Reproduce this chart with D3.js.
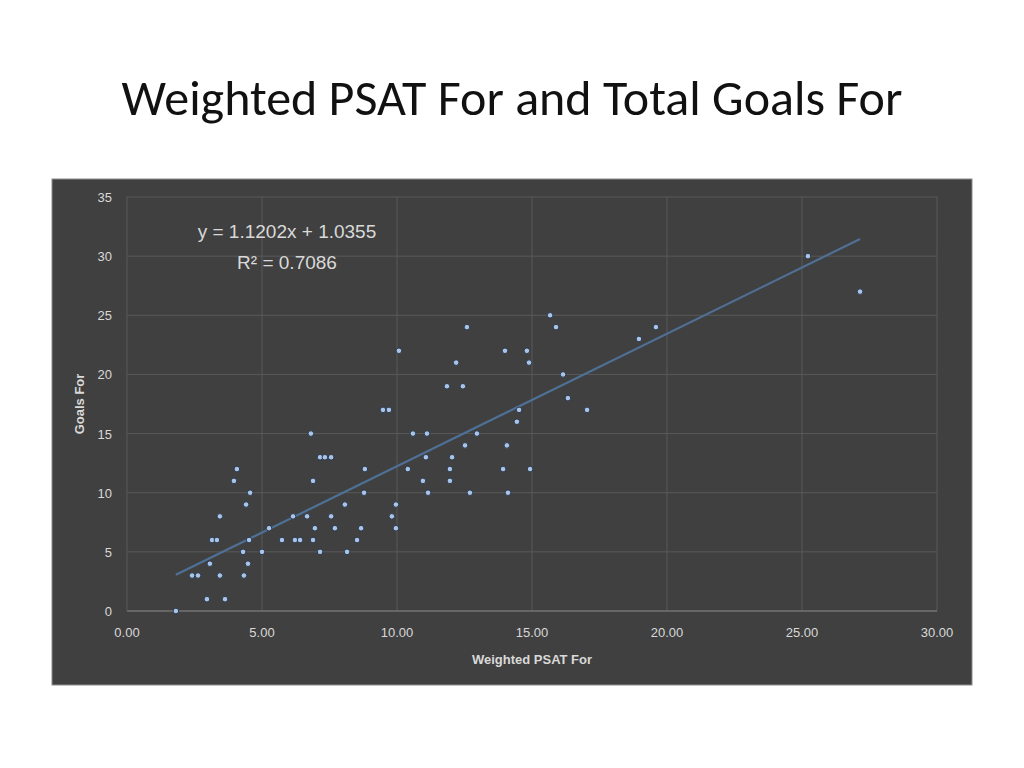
<!DOCTYPE html>
<html><head><meta charset="utf-8">
<script src="https://d3js.org/d3.v7.min.js"></script>
<style>body{margin:0;background:#fff;}</style></head>
<body><svg id="c" width="1024" height="768"></svg>
<script>
const xVals=[1.81,2.41,2.63,2.96,3.07,3.15,3.33,3.44,3.44,3.63,3.96,4.07,4.30,4.33,4.41,4.48,4.52,4.56,5.0,5.26,5.74,6.15,6.22,6.41,6.67,6.81,6.89,6.89,6.96,7.15,7.15,7.33,7.56,7.56,7.70,8.07,8.15,8.52,8.67,8.78,8.81,9.48,9.70,9.81,9.96,9.96,10.07,10.4,10.59,10.96,11.07,11.11,11.15,11.85,11.96,11.96,12.04,12.19,12.44,12.52,12.59,12.70,12.96,13.93,14.0,14.07,14.11,14.44,14.52,14.81,14.89,14.93,15.67,15.89,16.15,16.33,17.04,18.96,19.59,25.22,27.15];
const yVals=[0,3,3,1,4,6,6,8,3,1,11,12,5,3,9,4,6,10,5,7,6,8,6,6,8,15,11,6,7,5,13,13,13,8,7,9,5,6,7,10,12,17,17,8,9,7,22,12,15,11,13,15,10,19,11,12,13,21,19,14,24,10,15,12,22,14,10,16,17,22,21,12,25,24,20,18,17,23,24,30,27];
const xTicks=[0,5,10,15,20,25,30];
const yTicks=[0,5,10,15,20,25,30,35];
const slope=1.1202, intercept=1.0355;
const svg=d3.select("#c");
svg.append("text").attr("x",512).attr("y",115).attr("text-anchor","middle")
 .attr("font-family","Carlito, Calibri, 'Liberation Sans', sans-serif").attr("font-size",50).attr("fill","#111")
 .text("Weighted PSAT For and Total Goals For");
svg.append("rect").attr("x",52).attr("y",179).attr("width",920).attr("height",506).attr("fill","#404040").attr("stroke","#8c8c8c");
const x=d3.scaleLinear().domain([0,30]).range([127,937]);
const y=d3.scaleLinear().domain([0,35]).range([611,197]);
const g=svg.append("g").attr("font-family","'Liberation Sans',Arial,sans-serif");
g.selectAll(".gx").data(xTicks.slice(1)).join("line").attr("x1",d=>x(d)).attr("x2",d=>x(d)).attr("y1",y(35)).attr("y2",y(0)).attr("stroke","#595959");
g.selectAll(".gy").data(yTicks).join("line").attr("x1",x(0)).attr("x2",x(30)).attr("y1",d=>y(d)).attr("y2",d=>y(d)).attr("stroke",d=>d===0?"#8c8c8c":"#595959");
g.append("line").attr("x1",x(0)).attr("x2",x(0)).attr("y1",y(35)).attr("y2",y(0)).attr("stroke","#595959");
g.selectAll(".tx").data(xTicks).join("text").attr("x",d=>x(d)).attr("y",637).attr("text-anchor","middle").attr("fill","#d9d9d9").attr("font-size",13).text(d=>d3.format(".2f")(d));
g.selectAll(".ty").data(yTicks).join("text").attr("x",112).attr("y",d=>y(d)+5).attr("text-anchor","end").attr("fill","#d9d9d9").attr("font-size",13).text(d=>d);
g.append("text").attr("x",532).attr("y",664).attr("text-anchor","middle").attr("fill","#d9d9d9").attr("font-size",13).attr("font-weight","bold").text("Weighted PSAT For");
g.append("text").attr("transform","translate(84,404) rotate(-90)").attr("text-anchor","middle").attr("fill","#d9d9d9").attr("font-size",13).attr("font-weight","bold").text("Goals For");
const xmin=d3.min(xVals), xmax=d3.max(xVals);
g.append("line").attr("x1",x(xmin)).attr("y1",y(slope*xmin+intercept)).attr("x2",x(xmax)).attr("y2",y(slope*xmax+intercept)).attr("stroke","#4f7096").attr("stroke-width",2.2);
g.selectAll(".pt").data(xVals.map((v,i)=>[v,yVals[i]])).join("circle").attr("cx",d=>x(d[0])).attr("cy",d=>y(d[1])).attr("r",2.8).attr("fill","#a9c4ea").attr("stroke","#2d3a4a").attr("stroke-width",1);
g.append("text").attr("x",287).attr("y",238).attr("text-anchor","middle").attr("fill","#d9d9d9").attr("font-size",19).text("y = 1.1202x + 1.0355");
g.append("text").attr("x",287).attr("y",269).attr("text-anchor","middle").attr("fill","#d9d9d9").attr("font-size",19).text("R² = 0.7086");
</script></body></html>
